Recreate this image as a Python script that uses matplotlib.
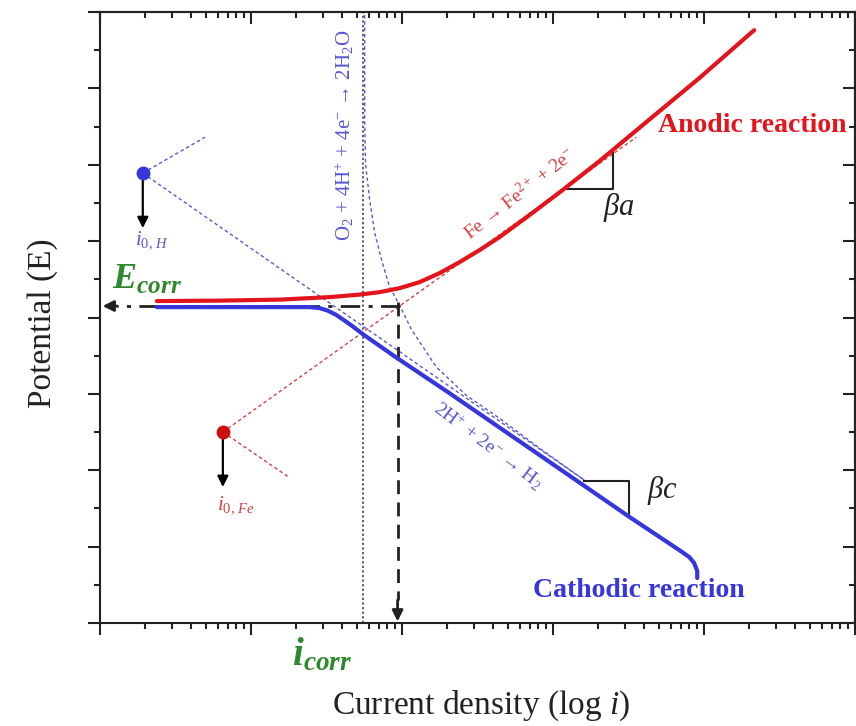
import matplotlib
matplotlib.use('Agg')
import matplotlib.pyplot as plt
from matplotlib.ticker import LogLocator, MultipleLocator, NullFormatter

plt.rcParams['font.family'] = ['Liberation Serif', 'DejaVu Serif']
plt.rcParams['mathtext.fontset'] = 'custom'
plt.rcParams['mathtext.rm'] = 'Liberation Serif'
plt.rcParams['mathtext.it'] = 'Liberation Serif:italic'
plt.rcParams['mathtext.bf'] = 'Liberation Serif:bold:italic'

RED = '#e3141c'
BLUE = '#3636dc'
LBLUE = '#5858d4'
GREEN = '#2f8a2f'

# anodic curve Fe -> Fe2+ (current density, potential)
anodic_i = [2.38, 6.22, 15.5, 33.2, 52.5, 71.1, 96.4, 130.7, 177.4, 240.5, 326, 442,
            698, 1155, 2028, 4540, 9290, 21480]
anodic_E = [4.215, 4.221, 4.234, 4.267, 4.30, 4.332, 4.384, 4.463, 4.581, 4.725, 4.882, 5.052,
            5.34, 5.667, 6.047, 6.623, 7.133, 7.762]

# cathodic curve
cathodic_i = [2.38, 9.8, 24.5, 28.5, 32.2, 36.4, 41.7, 47.9, 54.9, 90.7, 206, 813, 3200,
              6855, 7980, 8610, 9020, 9020]
cathodic_E = [4.136, 4.136, 4.136, 4.123, 4.09, 4.038, 3.959, 3.874, 3.783, 3.482, 3.01, 2.20,
              1.39, 0.955, 0.864, 0.785, 0.681, 0.589]

# oxygen reduction curve (dotted), with its limiting current
o2_i = [56.6, 56.6, 57.4, 61.1, 65.9, 73.3, 82.8, 96.4, 115.7, 169, 267, 442, 813, 1614]
o2_E = [7.96, 6.58, 6.00, 5.54, 5.11, 4.75, 4.40, 4.16, 3.84, 3.35, 2.98, 2.68, 2.29, 1.87]
o2_limit = 54.9

# exchange current densities and Tafel lines
i0_H, E0_H = 1.92, 5.89
i0_Fe, E0_Fe = 6.51, 2.50
fe_tafel_i = [i0_Fe, 3560]
fe_tafel_E = [E0_Fe, 6.36]
fe_back_i = [i0_Fe, 17.5]
fe_back_E = [E0_Fe, 1.92]
h_tafel_i = [i0_H, 1614]
h_tafel_E = [E0_H, 1.87]
h_back_i = [i0_H, 4.95]
h_back_E = [E0_H, 6.36]

E_corr = 4.15
i_corr = 93.5

# slope triangles
beta_a_i = [1227, 2507, 2507]
beta_a_E = [5.68, 5.68, 6.20]
beta_c_i = [1614, 3200, 3200]
beta_c_E = [1.86, 1.86, 1.39]

fig = plt.figure(figsize=(8.56, 7.26), dpi=100)
ax = fig.add_axes([100 / 856, 103 / 726, 755 / 856, 611 / 726])
ax.set_xscale('log')
ax.set_xlim(1, 1e5)
ax.set_ylim(0, 8)

# guide lines
ax.plot([o2_limit, o2_limit], [0, 8], color='#333344', lw=1.1, ls=(0, (1.5, 1.5)))
ax.plot(o2_i, o2_E, color=LBLUE, lw=1.0, ls=(0, (2.5, 2)))
ax.plot(h_tafel_i, h_tafel_E, color=LBLUE, lw=1.0, ls=(0, (2.5, 2)))
ax.plot(h_back_i, h_back_E, color=LBLUE, lw=1.0, ls=(0, (2.5, 2)))
ax.plot(fe_tafel_i, fe_tafel_E, color='#d84040', lw=1.0, ls=(0, (2.5, 2)))
ax.plot(fe_back_i, fe_back_E, color='#d84040', lw=1.0, ls=(0, (2.5, 2)))

# Ecorr / icorr arrows
ax.plot([i_corr + 3, 1.3], [E_corr, E_corr], color='#222222', lw=2, ls=(0, (7, 3, 1.5, 3)))
ax.annotate('', xy=(1.04, E_corr), xytext=(1.3, E_corr),
            arrowprops=dict(arrowstyle='-|>', color='#222222', lw=2, mutation_scale=16,
                            shrinkA=0, shrinkB=0))
ax.plot([i_corr, i_corr], [E_corr + 0.05, 0.3], color='#222222', lw=2, ls=(0, (5, 3)))
ax.annotate('', xy=(i_corr, 0.02), xytext=(i_corr, 0.3),
            arrowprops=dict(arrowstyle='-|>', color='#222222', lw=2, mutation_scale=16,
                            shrinkA=0, shrinkB=0))

# polarization curves
ax.plot(cathodic_i, cathodic_E, color=BLUE, lw=3, solid_capstyle='round',
        solid_joinstyle='round', zorder=4)
ax.plot(anodic_i, anodic_E, color=RED, lw=3, solid_capstyle='round',
        solid_joinstyle='round', zorder=5)

# slope triangles
ax.plot(beta_a_i, beta_a_E, color='#222222', lw=1.5, zorder=3)
ax.plot(beta_c_i, beta_c_E, color='#222222', lw=1.5, zorder=3)

# exchange current points with arrows
for ii, ee, c in [(i0_H, E0_H, BLUE), (i0_Fe, E0_Fe, '#cc1010')]:
    ax.annotate('', xy=(ii, ee - 0.72), xytext=(ii, ee),
                arrowprops=dict(arrowstyle='-|>', color='black', lw=1.6, mutation_scale=16,
                                shrinkA=0, shrinkB=0))
    ax.plot([ii], [ee], 'o', color=c, ms=9, zorder=6)

# text
ax.text(2.21, 5.01, r'$i_{0,\,H}$', color=LBLUE, fontsize=15, ha='center', va='center')
ax.text(7.93, 1.55, r'$i_{0,\,Fe}$', color='#d84040', fontsize=15, ha='center', va='center')
ax.text(2.05, 4.49, r'$\mathbf{E}_{\mathbf{corr}}$', color=GREEN, fontsize=26,
        ha='center', va='center')
ax.text(29.4, -0.42, r'$\mathbf{i}_{\mathbf{corr}}$', color=GREEN, fontsize=28,
        ha='center', va='center', clip_on=False)
ax.text(41.7, 6.39, r'O$_2$ + 4H$^{+}$ + 4e$^{-}$ → 2H$_2$O', color=LBLUE, fontsize=15,
        rotation=90, ha='center', va='center')
ax.text(600, 5.62, r'Fe → Fe$^{2+}$ + 2e$^{-}$', color='#d84040', fontsize=14,
        rotation=38, ha='center', va='center', rotation_mode='anchor')
ax.text(368, 2.32, r'2H$^{+}$ + 2e$^{-}$ → H$_2$', color=LBLUE, fontsize=14,
        rotation=-37, ha='center', va='center', rotation_mode='anchor')
ax.text(2750, 5.44, r'$\beta a$', fontsize=22, color='#222222', ha='center', va='center')
ax.text(5290, 1.74, r'$\beta c$', fontsize=22, color='#222222', ha='center', va='center')
ax.text(20840, 6.52, 'Anodic reaction', color=RED, fontsize=20, fontweight='bold',
        ha='center', va='center')
ax.text(3726, 0.43, 'Cathodic reaction', color=BLUE, fontsize=20, fontweight='bold',
        ha='center', va='center')

ax.set_xlabel('Current density (log $i$)', fontsize=24, color='#222222', va='center')
ax.xaxis.set_label_coords(0.505, -0.135)
ax.set_ylabel('Potential (E)', fontsize=24, color='#222222', va='center')
ax.yaxis.set_label_coords(-0.076, 0.49)

# ticks: outward on left/bottom, inward on top/right, no labels
ax.xaxis.set_major_locator(LogLocator(base=10))
ax.xaxis.set_minor_locator(LogLocator(base=10, subs=range(2, 10)))
ax.xaxis.set_major_formatter(NullFormatter())
ax.xaxis.set_minor_formatter(NullFormatter())
ax.yaxis.set_major_locator(MultipleLocator(1))
ax.yaxis.set_minor_locator(MultipleLocator(0.5))
ax.yaxis.set_major_formatter(NullFormatter())
ax.tick_params(which='major', direction='out', length=8.5, width=1.5, color='#222222')
ax.tick_params(which='minor', direction='out', length=4.5, width=1.5, color='#222222')

top = ax.secondary_xaxis('top')
top.xaxis.set_major_locator(LogLocator(base=10))
top.xaxis.set_minor_locator(LogLocator(base=10, subs=range(2, 10)))
top.xaxis.set_major_formatter(NullFormatter())
top.xaxis.set_minor_formatter(NullFormatter())
top.tick_params(which='major', direction='in', length=8.5, width=1.5, color='#222222')
top.tick_params(which='minor', direction='in', length=4.5, width=1.5, color='#222222')

right = ax.secondary_yaxis('right')
right.yaxis.set_major_locator(MultipleLocator(1))
right.yaxis.set_minor_locator(MultipleLocator(0.5))
right.yaxis.set_major_formatter(NullFormatter())
right.tick_params(which='major', direction='in', length=8.5, width=1.5, color='#222222')
right.tick_params(which='minor', direction='in', length=4.5, width=1.5, color='#222222')

for a in (ax, top, right):
    for s in a.spines.values():
        s.set_linewidth(1.5)
        s.set_color('#222222')

fig.savefig('out.png', dpi=100)
